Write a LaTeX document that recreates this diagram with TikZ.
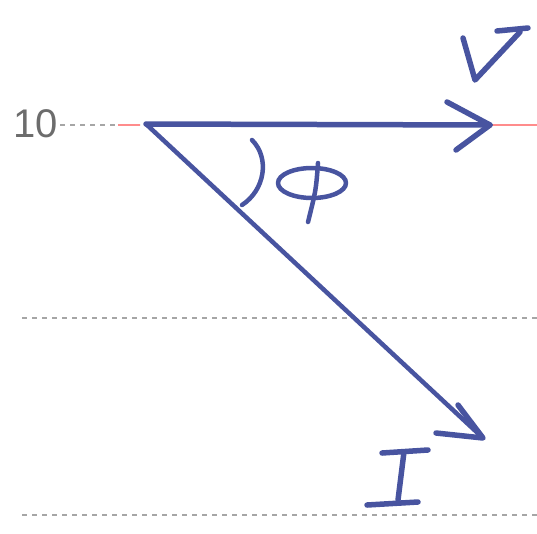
\documentclass[tikz,border=0pt]{standalone}
\usepackage{fontspec}
\setmainfont{Liberation Sans}
\begin{document}
\begin{tikzpicture}[x=1pt,y=-1pt,
  pen/.style={draw=penblue,line width=5.5pt,line cap=round,line join=round},
  thinpen/.style={draw=penblue,line width=4.5pt,line cap=round,line join=round},
  guide/.style={draw=gray!70,line width=1.3pt,dash pattern=on 5pt off 5pt},
  redline/.style={draw=red!45,line width=1.5pt}]
\definecolor{penblue}{RGB}{72,84,160}
\useasboundingbox (0,0) rectangle (537,533);
% guide lines
\coordinate (g1a) at (60,125); \coordinate (g1b) at (140,125);
\coordinate (g2a) at (22,318); \coordinate (g2b) at (537,318);
\coordinate (g3a) at (22,515); \coordinate (g3b) at (537,515);
\draw[guide] (g1a) -- (g1b);
\draw[guide] (g2a) -- (g2b);
\draw[guide] (g3a) -- (g3b);
\coordinate (r1a) at (118,125); \coordinate (r2a) at (490,125); \coordinate (r2b) at (537,125);
\draw[redline] (r1a) -- (g1b);
\draw[redline] (r2a) -- (r2b);
\node[text=gray!85!black,font=\fontsize{40}{42}\selectfont,inner sep=0pt] (ten) at (36,124) {10};
% origin and vector tips
\coordinate (O) at (146,124);
\coordinate (Vt) at (490,125);
\coordinate (It) at (483,438);
\draw[pen] (O) -- (Vt);
\draw[thinpen] (O) -- (It);
% V arrowhead
\coordinate (Va1) at (447,102); \coordinate (Va2) at (456,150);
\draw[pen] (Va1) -- (Vt) -- (Va2);
% I arrowhead
\coordinate (Ia1) at (458,405); \coordinate (Ia2) at (436,433);
\draw[pen] (Ia1) -- (It) -- (Ia2);
% angle arc
\coordinate (A1) at (252,140); \coordinate (A2) at (242,205);
\draw[thinpen] (A1) .. controls (270,158) and (265,190) .. (A2);
% phi
\coordinate (phc) at (312,183);
\draw[thinpen] (phc) ellipse (34pt and 15pt);
\coordinate (ph1) at (318,163); \coordinate (ph2) at (308,222);
\draw[thinpen] (ph1) .. controls (316,190) .. (ph2);
% V letter
\coordinate (V1) at (463,38); \coordinate (V2) at (475,80); \coordinate (V3) at (520,32);
\coordinate (V4) at (497,31); \coordinate (V5) at (528,28);
\draw[pen] (V1) -- (V2) -- (V3);
\draw[pen] (V4) -- (V5);
% I letter
\coordinate (I1) at (382,453); \coordinate (I2) at (428,450);
\coordinate (I3) at (404,452); \coordinate (I4) at (398,500);
\coordinate (I5) at (367,505); \coordinate (I6) at (418,502);
\draw[pen] (I1) -- (I2);
\draw[pen] (I3) -- (I4);
\draw[pen] (I5) -- (I6);
\end{tikzpicture}
\end{document}
